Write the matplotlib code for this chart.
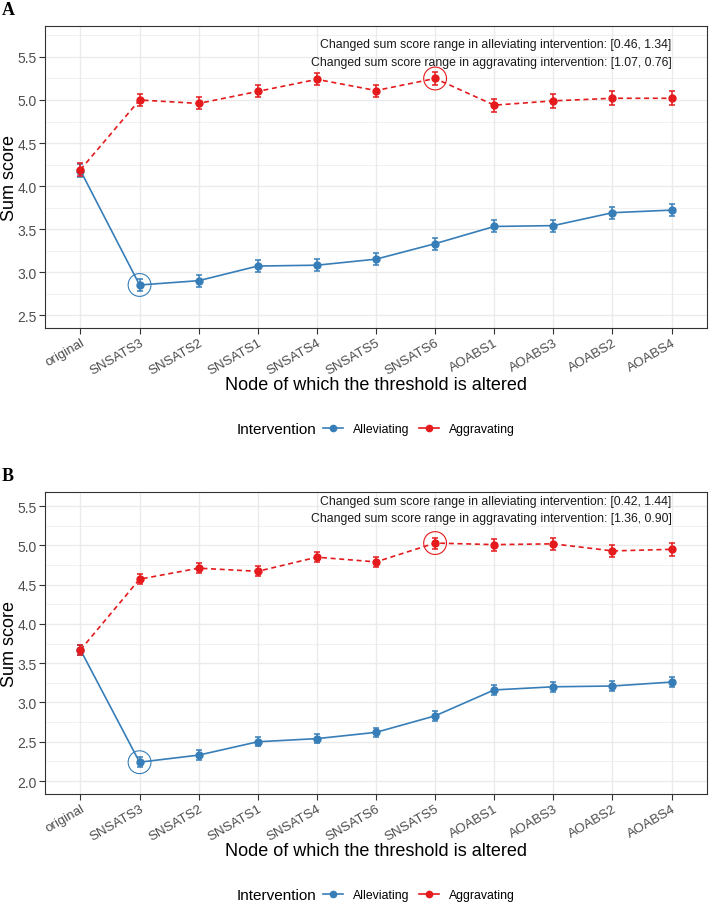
import matplotlib
matplotlib.use("Agg")
import matplotlib.pyplot as plt
from matplotlib.lines import Line2D

plt.rcParams['font.family'] = ['Liberation Sans', 'DejaVu Sans']

# panel A
nodes_a = ["original", "SNSATS3", "SNSATS2", "SNSATS1", "SNSATS4", "SNSATS5",
           "SNSATS6", "AOABS1", "AOABS3", "AOABS2", "AOABS4"]
allev_a = [4.18, 2.85, 2.90, 3.07, 3.08, 3.15, 3.33, 3.53, 3.54, 3.69, 3.72]
allev_a_se = [0.075, 0.07, 0.07, 0.07, 0.07, 0.07, 0.07, 0.07, 0.07, 0.07, 0.07]
aggr_a = [4.19, 5.00, 4.96, 5.10, 5.24, 5.11, 5.25, 4.94, 4.99, 5.02, 5.02]
aggr_a_se = [0.075, 0.07, 0.07, 0.07, 0.07, 0.07, 0.07, 0.075, 0.08, 0.08, 0.08]
text_a = ["Changed sum score range in alleviating intervention: [0.46, 1.34]",
          "Changed sum score range in aggravating intervention: [1.07, 0.76]"]

# panel B
nodes_b = ["original", "SNSATS3", "SNSATS2", "SNSATS1", "SNSATS4", "SNSATS6",
           "SNSATS5", "AOABS1", "AOABS3", "AOABS2", "AOABS4"]
allev_b = [3.67, 2.24, 2.33, 2.50, 2.54, 2.62, 2.83, 3.16, 3.20, 3.21, 3.26]
allev_b_se = [0.065, 0.06, 0.06, 0.06, 0.06, 0.06, 0.06, 0.06, 0.06, 0.06, 0.06]
aggr_b = [3.67, 4.57, 4.71, 4.67, 4.85, 4.79, 5.03, 5.01, 5.02, 4.93, 4.95]
aggr_b_se = [0.065, 0.06, 0.06, 0.065, 0.065, 0.065, 0.07, 0.075, 0.075, 0.08, 0.08]
text_b = ["Changed sum score range in alleviating intervention: [0.42, 1.44]",
          "Changed sum score range in aggravating intervention: [1.36, 0.90]"]

BLUE = "#377EB8"
RED = "#E41A1C"
GRID = "#EBEBEB"
DARK = "#333333"

W, H = 709, 904
fig = plt.figure(figsize=(W / 100, H / 100), dpi=100)


def px(x, y):
    return x / W, 1 - y / H


def panel(top, bottom, nodes, allev, allev_se, aggr, aggr_se, texts,
          ylim, yticks, text_y, hl_blue, hl_red, letter):
    ax = fig.add_axes([45 / W, 1 - bottom / H, 662 / W, (bottom - top) / H])
    x = list(range(len(nodes)))
    ax.set_xlim(-0.6, len(nodes) - 0.4)
    ax.set_ylim(*ylim)

    # grid
    for t in yticks:
        ax.axhline(t, color=GRID, lw=1.0, zorder=0)
    for t in yticks[:-1]:
        ax.axhline(t + 0.25, color=GRID, lw=0.5, zorder=0)
    ax.axhline(yticks[0] - 0.25, color=GRID, lw=0.5, zorder=0)
    ax.axhline(yticks[-1] + 0.25, color=GRID, lw=0.5, zorder=0)
    for xi in x:
        ax.axvline(xi, color=GRID, lw=1.0, zorder=0)

    ax.errorbar(x, allev, yerr=allev_se, color=BLUE, lw=1.2, marker='o', ms=5,
                capsize=2.5, capthick=1.1, elinewidth=1.1, zorder=3)
    ax.errorbar(x, aggr, yerr=aggr_se, color=RED, lw=1.2, ls=(0, (3, 2.2)),
                marker='o', ms=5, capsize=2.5, capthick=1.1, elinewidth=1.1,
                zorder=4)

    ax.scatter([hl_blue], [allev[hl_blue]], s=270, facecolors='none',
               edgecolors=BLUE, linewidths=0.8, zorder=5)
    ax.scatter([hl_red], [aggr[hl_red]], s=270, facecolors='none',
               edgecolors=RED, linewidths=0.8, zorder=5)

    for t, yy in zip(texts, text_y):
        ax.text(len(nodes) - 1, yy, t, ha='right', va='center', fontsize=8.8,
                color="#1A1A1A", zorder=6)

    ax.set_xticks(x)
    ax.set_xticklabels(nodes, rotation=30, ha='right', rotation_mode='anchor',
                       fontsize=9.6, color="#4D4D4D")
    ax.set_yticks(yticks)
    ax.set_yticklabels([f"{t:.1f}" for t in yticks], fontsize=10,
                       color="#4D4D4D")
    ax.tick_params(length=4, width=0.8, color=DARK, pad=2)
    for s in ax.spines.values():
        s.set_color(DARK)
        s.set_linewidth(0.8)

    fig.text(*px(10, (top + bottom) / 2), "Sum score", rotation=90,
             ha='center', va='center', fontsize=13)
    fig.text(*px(376, bottom + 61), "Node of which the threshold is altered",
             ha='center', va='baseline', fontsize=13)
    fig.text(*px(2, top - 12), letter, ha='left', va='baseline', fontsize=13,
             fontweight='bold', family=['Liberation Serif', 'DejaVu Serif'])

    ly = bottom + 101
    fig.text(*px(237, ly), "Intervention", ha='left', va='center', fontsize=11)
    handles = [Line2D([], [], color=BLUE, lw=1.2, marker='o', ms=4.5),
               Line2D([], [], color=RED, lw=1.2, marker='o', ms=4.5)]
    fig.legend(handles, ["Alleviating", "Aggravating"], ncol=2,
               loc='center left', bbox_to_anchor=px(323, ly), frameon=False,
               fontsize=8.8, handlelength=1.65, handletextpad=0.8,
               columnspacing=0.8, borderpad=0, borderaxespad=0)
    return ax


panel(27, 329, nodes_a, allev_a, allev_a_se, aggr_a, aggr_a_se, text_a,
      (2.35, 5.86), [2.5, 3.0, 3.5, 4.0, 4.5, 5.0, 5.5], (5.65, 5.445), 1, 6, "A")
panel(493, 795, nodes_b, allev_b, allev_b_se, aggr_b, aggr_b_se, text_b,
      (1.835, 5.68), [2.0, 2.5, 3.0, 3.5, 4.0, 4.5, 5.0, 5.5], (5.56, 5.35), 1, 6, "B")

fig.savefig("out.png", dpi=100)
